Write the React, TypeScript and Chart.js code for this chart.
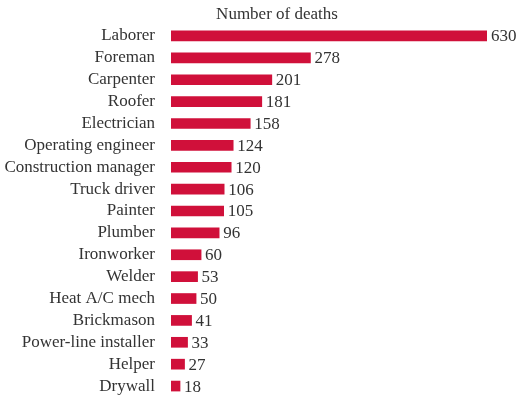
import React, { useEffect, useRef } from "react";
import { Chart, registerables } from "chart.js";

Chart.register(...registerables);

const categories = [
  "Laborer",
  "Foreman",
  "Carpenter",
  "Roofer",
  "Electrician",
  "Operating engineer",
  "Construction manager",
  "Truck driver",
  "Painter",
  "Plumber",
  "Ironworker",
  "Welder",
  "Heat A/C mech",
  "Brickmason",
  "Power-line installer",
  "Helper",
  "Drywall",
];

const deaths = [630, 278, 201, 181, 158, 124, 120, 106, 105, 96, 60, 53, 50, 41, 33, 27, 18];

const titleText = "Number of deaths";

const FONT = "'Liberation Serif', 'Times New Roman', serif";
const TEXT_COLOR = "#333333";
const BAR_COLOR = "#D0103A";

const valueLabels = {
  id: "valueLabels",
  afterDatasetsDraw(chart: any) {
    const ctx = chart.ctx;
    const meta = chart.getDatasetMeta(0);
    ctx.save();
    ctx.font = `17px ${FONT}`;
    ctx.fillStyle = TEXT_COLOR;
    ctx.textAlign = "left";
    ctx.textBaseline = "middle";
    meta.data.forEach((bar: any, i: number) => {
      ctx.fillText(String(deaths[i]), bar.x + 4, bar.y + 1);
    });
    ctx.restore();
  },
};

const topTitle = {
  id: "topTitle",
  afterDraw(chart: any) {
    const ctx = chart.ctx;
    ctx.save();
    ctx.font = `17px ${FONT}`;
    ctx.fillStyle = TEXT_COLOR;
    ctx.textAlign = "center";
    ctx.textBaseline = "middle";
    ctx.fillText(titleText, 277, 15);
    ctx.restore();
  },
};

export default function App() {
  const ref = useRef<HTMLCanvasElement | null>(null);
  useEffect(() => {
    if (!ref.current) return;
    const chart = new Chart(ref.current, {
      type: "bar",
      data: {
        labels: categories,
        datasets: [
          {
            data: deaths,
            backgroundColor: BAR_COLOR,
            borderWidth: 0,
            barThickness: 10,
          },
        ],
      },
      options: {
        indexAxis: "y",
        animation: false,
        responsive: false,
        maintainAspectRatio: false,
        layout: { padding: { top: 25, bottom: 2, right: 31, left: 0 } },
        plugins: {
          legend: { display: false },
          title: { display: false },
          tooltip: { enabled: false },
        },
        scales: {
          x: {
            display: false,
            min: 0,
            max: 630,
          },
          y: {
            grid: { display: false, drawTicks: false },
            border: { display: false },
            ticks: {
              color: TEXT_COLOR,
              font: { family: FONT, size: 17 },
              padding: 16,
              autoSkip: false,
            },
            afterFit(scale: any) {
              scale.width = 171;
              scale.paddingTop = 0;
              scale.paddingBottom = 0;
            },
          },
        },
      },
      plugins: [valueLabels, topTitle],
    });
    return () => chart.destroy();
  }, []);
  return (
    <div style={{ position: "absolute", left: 0, top: 0, width: 518, height: 399 }}>
      <canvas ref={ref} width={518} height={399} style={{ width: 518, height: 399, display: "block" }} />
    </div>
  );
}
